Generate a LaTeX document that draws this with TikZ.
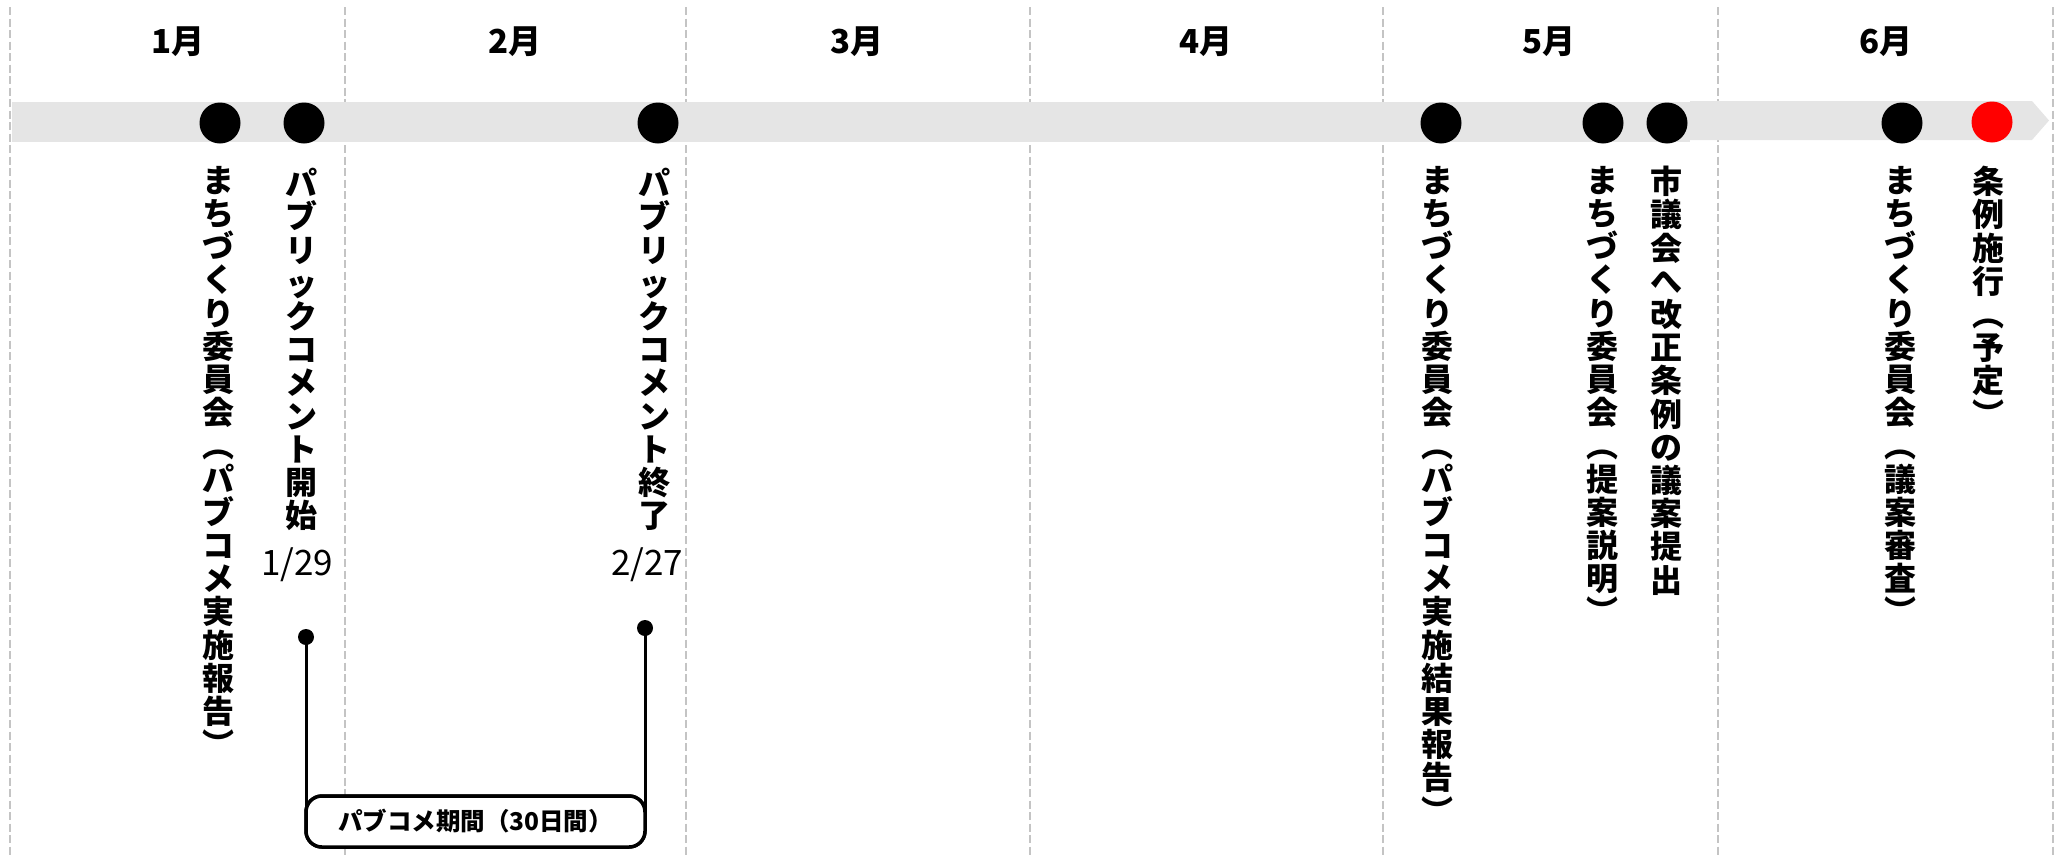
\documentclass[tikz,border=0pt]{standalone}
\usepackage{fontspec}
\setmainfont{Noto Sans CJK JP}
\definecolor{bandgray}{RGB}{229,229,229}
\definecolor{dashgray}{RGB}{196,196,196}
\definecolor{pinred}{RGB}{255,0,0}
\tikzset{
  sep/.style={draw=dashgray, line width=2.5pt, dash pattern=on 8pt off 3.5pt},
  month/.style={font=\bfseries\fontsize{33}{37}\selectfont, inner sep=0pt},
  vcol/.style={anchor=north, align=center, inner sep=0pt, font=\bfseries\fontsize{32}{33.2}\selectfont},
  datelbl/.style={inner sep=0pt, font=\fontsize{35}{38}\selectfont},
  dot/.style={circle, fill=black, minimum size=41pt, inner sep=0pt},
  reddot/.style={dot, fill=pinred},
  pin/.style={circle, fill=black, minimum size=16pt, inner sep=0pt},
  pinline/.style={line width=3pt, draw=black},
  periodbox/.style={draw=black, line width=3.5pt, rounded corners=16pt, fill=white,
    minimum width=339pt, minimum height=51pt, inner sep=0pt,
    font=\bfseries\fontsize{24.5}{28}\selectfont}
}
\begin{document}
\begin{tikzpicture}[x=1pt, y=-1pt]
\useasboundingbox (0,0) rectangle (2064,857);
% month separators
\foreach \xx/\nm in {10/s0,345/s1,686/s2,1030/s3,1383/s4,1718/s5,2053/s6}{
  \coordinate (\nm t) at (\xx,7);
  \coordinate (\nm b) at (\xx,857);
  \draw[sep] (\nm t) -- (\nm b);
}
% month labels
\node[month] (m1) at (178,42) {1月};
\node[month] (m2) at (515,42) {2月};
\node[month] (m3) at (857,42) {3月};
\node[month] (m4) at (1206,42) {4月};
\node[month] (m5) at (1549,42) {5月};
\node[month] (m6) at (1886,42) {6月};
% timeline band
\fill[bandgray] (12,102) -- (1690,102) -- (1690,141.5) -- (12,141.5) -- cycle;
\fill[bandgray] (1690,101) -- (2032,101) -- (2049,120.5) -- (2032,140) -- (1690,140) -- cycle;
% dots
\node[dot] (d1) at (220,123) {};
\node[dot] (d2) at (304,123) {};
\node[dot] (d3) at (658,123) {};
\node[dot] (d4) at (1441,123) {};
\node[dot] (d5) at (1603,123) {};
\node[dot] (d6) at (1667,123) {};
\node[dot] (d7) at (1902,123) {};
\node[reddot] (d8) at (1992,122) {};
% vertical labels
\node[vcol] (t1) at (218,166) {ま\\ち\\づ\\く\\り\\委\\員\\会\\︵\\パ\\ブ\\コ\\メ\\実\\施\\報\\告\\︶};
\node[vcol] (t2) at (301,168) {パ\\ブ\\リ\\ッ\\ク\\コ\\メ\\ン\\ト\\開\\始};
\node[vcol] (t3) at (654,168) {パ\\ブ\\リ\\ッ\\ク\\コ\\メ\\ン\\ト\\終\\了};
\node[vcol] (t4) at (1437,166) {ま\\ち\\づ\\く\\り\\委\\員\\会\\︵\\パ\\ブ\\コ\\メ\\実\\施\\結\\果\\報\\告\\︶};
\node[vcol] (t5) at (1602,166) {ま\\ち\\づ\\く\\り\\委\\員\\会\\︵\\提\\案\\説\\明\\︶};
\node[vcol] (t6) at (1666,166) {市\\議\\会\\へ\\改\\正\\条\\例\\の\\議\\案\\提\\出};
\node[vcol] (t7) at (1900,166) {ま\\ち\\づ\\く\\り\\委\\員\\会\\︵\\議\\案\\審\\査\\︶};
\node[vcol] (t8) at (1988,166) {条\\例\\施\\行\\︵\\予\\定\\︶};
% dates
\node[datelbl] (dt1) at (297,565) {1/29};
\node[datelbl] (dt2) at (647,565) {2/27};
% public comment period bracket
\node[periodbox] (pb) at (475.5,821.5) {パブコメ期間（30日間）};
\node[pin] (p1) at (306,637) {};
\node[pin] (p2) at (645,628) {};
\draw[pinline] (p1.center) -- (p1 |- pb.center);
\draw[pinline] (p2.center) -- (p2 |- pb.center);
\node[periodbox] at (pb.center) {パブコメ期間（30日間）};
\end{tikzpicture}
\end{document}
